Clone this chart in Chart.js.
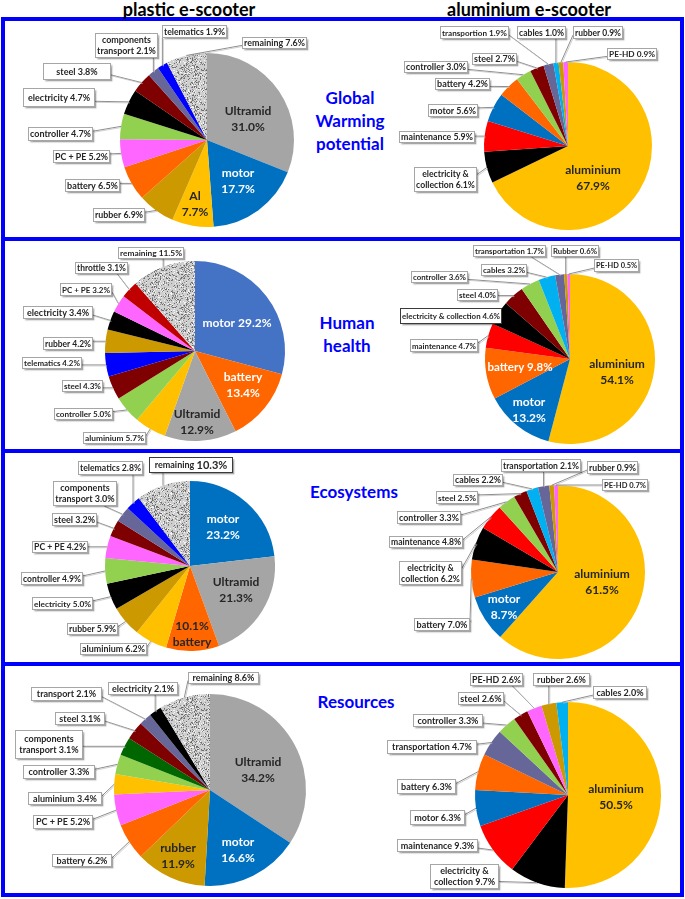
<!DOCTYPE html>
<html><head><meta charset="utf-8">
<script src="https://cdn.jsdelivr.net/npm/chart.js@4.4.1/dist/chart.umd.min.js"></script>
<style>
html,body{margin:0;padding:0;background:#fff;width:685px;height:899px;overflow:hidden;}
#wrap{position:relative;width:685px;height:899px;}
#wrap canvas{position:absolute;left:0;top:0;}
.frame{position:absolute;left:1px;top:17px;width:683px;height:880px;border:4px solid #0000FF;box-sizing:border-box;}
.sep{position:absolute;left:1px;width:683px;height:4px;background:#0000FF;}
.title{position:absolute;font-family:Lato,'Open Sans',sans-serif;font-weight:bold;font-size:18px;color:#000;text-align:center;width:260px;line-height:18px;}
.cat{position:absolute;font-family:Lato,'Open Sans',sans-serif;font-weight:bold;font-size:17px;color:#0000FF;text-align:center;width:140px;line-height:23px;}
</style>
</head><body>
<div id="wrap">
  <div class="frame"></div>
  <div class="sep" style="top:237px"></div>
  <div class="sep" style="top:449px"></div>
  <div class="sep" style="top:662px"></div>
  <div class="title" style="left:59px;top:0px">plastic e-scooter</div>
  <div class="title" style="left:399px;top:0px">aluminium e-scooter</div>
  <div class="cat" style="left:280px;top:86px">Global<br>Warming<br>potential</div>
  <div class="cat" style="left:277px;top:311px">Human<br>health</div>
  <div class="cat" style="left:284px;top:480px">Ecosystems</div>
  <div class="cat" style="left:286px;top:690px">Resources</div>
</div>
<script>
// ---------------- DATA ----------------
const gwPlasticCats = ['Ultramid','motor','Al','rubber','battery','PC + PE','controller','electricity','steel','components transport','telematics','remaining'];
const gwPlasticVals = [31.0,17.7,7.7,6.9,6.5,5.2,4.7,4.7,3.8,2.1,1.9,7.6];

const gwAluCats = ['aluminium','electricity & collection','maintenance','motor','battery','controller','steel','transportion','cables','rubber','PE-HD'];
const gwAluVals = [67.9,6.1,5.9,5.6,4.2,3.0,2.7,1.9,1.0,0.9,0.9];

const hhPlasticCats = ['motor','battery','Ultramid','aluminium','controller','steel','telematics','rubber','electricity','PC + PE','throttle','remaining'];
const hhPlasticVals = [29.2,13.4,12.9,5.7,5.0,4.3,4.2,4.2,3.4,3.2,3.1,11.5];

const hhAluCats = ['aluminium','motor','battery','maintenance','electricity & collection','steel','controller','cables','transportation','Rubber','PE-HD'];
const hhAluVals = [54.1,13.2,9.8,4.7,4.6,4.0,3.6,3.2,1.7,0.6,0.5];

const ecoPlasticCats = ['motor','Ultramid','battery','aluminium','rubber','electricity','controller','PC + PE','steel','components transport','telematics','remaining'];
const ecoPlasticVals = [23.2,21.3,10.1,6.2,5.9,5.0,4.9,4.2,3.2,3.0,2.8,10.3];

const ecoAluCats = ['aluminium','motor','battery','electricity & collection','maintenance','controller','steel','cables','transportation','rubber','PE-HD'];
const ecoAluVals = [61.5,8.7,7.0,6.2,4.8,3.3,2.5,2.2,2.1,0.9,0.7];

const resPlasticCats = ['Ultramid','motor','rubber','battery','PC + PE','aluminium','controller','components transport','steel','transport','electricity','remaining'];
const resPlasticVals = [34.2,16.6,11.9,6.2,5.2,3.4,3.3,3.1,3.1,2.1,2.1,8.6];

const resAluCats = ['aluminium','electricity & collection','maintenance','motor','battery','transportation','controller','steel','PE-HD','rubber','cables'];
const resAluVals = [50.5,9.7,9.3,6.3,6.3,4.7,3.3,2.6,2.6,2.6,2.0];

// ---------------- STYLE ----------------
function speckle(){
  const c=document.createElement('canvas'); c.width=c.height=40;
  const g=c.getContext('2d'); g.fillStyle='#CFCFCF'; g.fillRect(0,0,40,40);
  let s=7; const nx=()=>{s=(s*16807)%2147483647; return s/2147483647;};
  for(let k=0;k<650;k++){const x=Math.floor(nx()*40),y=Math.floor(nx()*40),t=nx();
    g.fillStyle=t<0.4?'#8C8C8C':(t<0.7?'#F5F5F5':'#6A6A6A'); g.fillRect(x,y,1,1);}
  return g.createPattern(c,'repeat');
}
const SPK = speckle();
const COLORS = {
  'Ultramid':'#A5A5A5','motor':'#0070C0','Al':'#FFC000','aluminium':'#FFC000','rubber':'#CC9900','Rubber':'#CC9900',
  'battery':'#FF6600','PC + PE':'#FF66FF','PE-HD':'#FF66FF','controller':'#92D050','electricity':'#000000',
  'electricity & collection':'#000000','steel':'#7F0000','components transport':'#666699','transportion':'#666699',
  'transportation':'#666699','transport':'#666699','telematics':'#0000FF','throttle':'#C00000','maintenance':'#FF0000',
  'cables':'#00B0F0','remaining':SPK
};

// ---------------- LAYOUT ----------------
// boxes: [left, top, width, height, wordsOnFirstLine(0=single line), darkBorder, bigValue]
// inner: [x, y, color, mode, fontSize]  mode: 2 = name/value two lines, 1 = single line, -2 = value/name
const L = {
  gwP:{cx:207,cy:140,r:87,
    boxes:{'components transport':[95,33,63,25,1],'telematics':[162,25,65,13],'remaining':[242,37,65,12],'steel':[43,63,68,17],
      'electricity':[23,88,72,19],'controller':[28,127,65,14],'PC + PE':[53,150,57,13],'battery':[65,179,55,13],'rubber':[93,208,52,14]},
    inner:{'Ultramid':[248,119,'#262626',2],'motor':[238,181,'#fff',2],'Al':[195,204,'#262626',2]}},
  gwA:{cx:568,cy:146,r:84,
    boxes:{'transportion':[440,26,69,13],'cables':[517,26,49,13],'rubber':[573,26,50,13],'PE-HD':[607,48,50,12],'steel':[472,53,45,12],
      'controller':[404,61,64,12],'battery':[435,78,55,12],'motor':[428,104,50,13],'maintenance':[399,131,76,12],
      'electricity & collection':[414,167,63,25,2]},
    inner:{'aluminium':[593,178,'#262626',2]}},
  hhP:{cx:195,cy:351,r:90,colors:{'motor':'#4472C4'},
    boxes:{'remaining':[118,247,66,12],'throttle':[75,262,53,12],'PC + PE':[60,283,52,13],'electricity':[23,306,70,13],'rubber':[43,337,50,13],
      'telematics':[22,357,60,12],'steel':[62,380,41,12],'controller':[54,408,59,12],'aluminium':[83,432,63,12]},
    inner:{'motor':[237,323,'#fff',1],'battery':[243,385,'#fff',2],'Ultramid':[197,422,'#262626',2]}},
  hhA:{cx:570,cy:359,r:85,
    boxes:{'transportation':[473,245,73,12],'Rubber':[551,245,48,12],'PE-HD':[594,259,45,13],'cables':[481,264,46,12],'controller':[411,271,57,12],
      'steel':[457,289,41,12],'electricity & collection':[400,308,102,16,0,1],'maintenance':[410,339,68,13]},
    inner:{'aluminium':[617,372,'#262626',2],'battery':[520,367,'#fff',1,11.5],'motor':[529,410,'#fff',2]}},
  ecoP:{cx:190,cy:566,r:85,
    boxes:{'telematics':[78,461,65,14],'remaining':[149,457,84,16,0,1,1],'components transport':[53,481,64,25,1],'steel':[52,513,45,13],
      'PC + PE':[32,541,56,12],'controller':[21,572,62,13],'electricity':[32,597,61,13],'rubber':[67,623,51,12],'aluminium':[80,643,67,12]},
    inner:{'motor':[223,527,'#fff',2],'Ultramid':[236,590,'#262626',2],'battery':[192,634,'#262626',-2]}},
  ecoA:{cx:558,cy:572,r:87,
    boxes:{'transportation':[501,459,80,13],'rubber':[587,461,51,13],'PE-HD':[602,479,46,12],'cables':[453,474,50,12],'steel':[436,491,42,13],
      'controller':[397,511,64,13],'maintenance':[389,536,74,12],'electricity & collection':[399,561,63,24,2],'battery':[414,618,56,13]},
    inner:{'aluminium':[602,582,'#262626',2],'motor':[504,607,'#fff',2]}},
  resP:{cx:210,cy:790,r:96,colors:{'components transport':'#006600'},
    boxes:{'remaining':[188,672,71,12],'electricity':[108,682,70,13],'transport':[31,687,71,14],'steel':[55,712,50,13],
      'components transport':[15,730,68,29,1],'controller':[23,765,72,14],'aluminium':[28,792,74,13],'PC + PE':[33,815,60,14],'battery':[52,854,60,13]},
    inner:{'Ultramid':[258,770,'#262626',2],'motor':[238,850,'#fff',2],'rubber':[178,856,'#262626',2]}},
  resA:{cx:568,cy:795,r:93,
    boxes:{'PE-HD':[470,673,53,13],'rubber':[533,673,57,13],'cables':[593,686,54,13],'steel':[458,692,46,13],'controller':[413,714,70,13],
      'transportation':[387,740,90,14],'battery':[397,779,59,15],'motor':[410,810,55,15],'maintenance':[397,839,81,13],
      'electricity & collection':[430,864,69,25,2]},
    inner:{'aluminium':[616,797,'#262626',2]}}
};

const W=685,H=899;
const FONT='Lato, "Open Sans", sans-serif';

function labelPlugin(lay){
  return {
    id:'boxLabels',
    afterDatasetsDraw(chart){
      const ctx=chart.ctx, meta=chart.getDatasetMeta(0);
      const cats=chart.data.labels, vals=chart.data.datasets[0].data;
      ctx.save();
      // leader lines
      meta.data.forEach((el,i)=>{
        const b=lay.boxes[cats[i]]; if(!b) return;
        const p=el.getProps(['x','y','startAngle','endAngle','outerRadius'],true);
        const m=(p.startAngle+p.endAngle)/2;
        const px=p.x+Math.cos(m)*p.outerRadius, py=p.y+Math.sin(m)*p.outerRadius;
        const [bx,by,bw,bh]=b;
        let ax, ay;
        if(px>bx+bw){ax=bx+bw; ay=Math.min(Math.max(py,by+bh*0.3),by+bh*0.7);}
        else if(px<bx){ax=bx; ay=Math.min(Math.max(py,by+bh*0.3),by+bh*0.7);}
        else {ax=px; ay=py>by+bh?by+bh:by;}
        if(px>bx+bw && py>by+bh+8 && px-(bx+bw)<py-(by+bh)){ax=Math.min(Math.max(px,bx+bw*0.3),bx+bw*0.8); ay=by+bh;}
        ctx.strokeStyle='rgba(130,130,130,0.9)'; ctx.lineWidth=1;
        ctx.beginPath(); ctx.moveTo(ax,ay); ctx.lineTo(px,py); ctx.stroke();
        ctx.strokeStyle='rgba(190,190,190,0.7)';
        ctx.beginPath(); ctx.moveTo(ax+1,ay+1); ctx.lineTo(px+1,py+1); ctx.stroke();
      });
      // boxes
      cats.forEach((c,i)=>{
        const b=lay.boxes[c]; if(!b) return;
        const [bx,by,bw,bh,br,dark,big]=b;
        ctx.shadowColor='rgba(0,0,0,0.35)'; ctx.shadowOffsetX=1.5; ctx.shadowOffsetY=1.5; ctx.shadowBlur=1.5;
        ctx.fillStyle='#fff'; ctx.fillRect(bx,by,bw,bh);
        ctx.shadowColor='transparent'; ctx.shadowOffsetX=0; ctx.shadowOffsetY=0; ctx.shadowBlur=0;
        ctx.strokeStyle=dark?'#3A3A3A':'#A6A6A6'; ctx.lineWidth=1;
        ctx.strokeRect(bx+0.5,by+0.5,bw-1,bh-1);
        ctx.fillStyle='#262626'; ctx.textBaseline='middle';
        const vtxt=vals[i].toFixed(1)+'%';
        if(big){
          ctx.font='bold 9px '+FONT; const w1=ctx.measureText(c+' ').width;
          ctx.font='bold 11px '+FONT; const w2=ctx.measureText(vtxt).width;
          const x0=bx+bw/2-(w1+w2)/2, yy=by+bh/2+0.5;
          ctx.textAlign='left';
          ctx.font='bold 9px '+FONT; ctx.fillText(c+' ',x0,yy);
          ctx.font='bold 11px '+FONT; ctx.fillText(vtxt,x0+w1,yy);
          return;
        }
        const txt=c+' '+vtxt;
        let lines=[txt];
        if(br){const w=txt.split(' '); lines=[w.slice(0,br).join(' '), w.slice(br).join(' ')];}
        let fs=9;
        ctx.font='bold '+fs+'px '+FONT;
        const maxW=Math.max(...lines.map(t=>ctx.measureText(t).width));
        if(maxW>bw-4){fs=fs*(bw-4)/maxW; ctx.font='bold '+fs.toFixed(2)+'px '+FONT;}
        ctx.textAlign='center';
        const lh=11, y0=by+bh/2-(lines.length-1)*lh/2+0.5;
        lines.forEach((t,k)=>ctx.fillText(t,bx+bw/2,y0+k*lh));
      });
      // inner labels
      cats.forEach((c,i)=>{
        const s=lay.inner[c]; if(!s) return;
        const [x,y,col,mode,fsz]=s;
        const v=vals[i].toFixed(1)+'%';
        const lines = mode===1?[c+' '+v]:(mode===-2?[v,c]:[c,v]);
        ctx.font='bold '+(fsz||12)+'px '+FONT; ctx.fillStyle=col; ctx.textAlign='center'; ctx.textBaseline='middle';
        const lh=16, y0=y-(lines.length-1)*lh/2;
        lines.forEach((t,k)=>ctx.fillText(t,x,y0+k*lh));
      });
      ctx.restore();
    }
  };
}

function makeChart(cats, vals, lay){
  const cv=document.createElement('canvas'); cv.width=W; cv.height=H;
  cv.style.width=W+'px'; cv.style.height=H+'px';
  document.getElementById('wrap').appendChild(cv);
  const colors=cats.map(c=>(lay.colors&&lay.colors[c])||COLORS[c]);
  new Chart(cv,{
    type:'pie',
    data:{labels:cats,datasets:[{data:vals,backgroundColor:colors,borderWidth:0,hoverOffset:0,offset:0}]},
    options:{
      responsive:false,animation:false,events:[],
      layout:{padding:{left:lay.cx-lay.r,top:lay.cy-lay.r,right:W-lay.cx-lay.r,bottom:H-lay.cy-lay.r}},
      plugins:{legend:{display:false},tooltip:{enabled:false}}
    },
    plugins:[labelPlugin(lay)]
  });
}

makeChart(gwPlasticCats, gwPlasticVals, L.gwP);
makeChart(gwAluCats, gwAluVals, L.gwA);
makeChart(hhPlasticCats, hhPlasticVals, L.hhP);
makeChart(hhAluCats, hhAluVals, L.hhA);
makeChart(ecoPlasticCats, ecoPlasticVals, L.ecoP);
makeChart(ecoAluCats, ecoAluVals, L.ecoA);
makeChart(resPlasticCats, resPlasticVals, L.resP);
makeChart(resAluCats, resAluVals, L.resA);
</script>
</body></html>
